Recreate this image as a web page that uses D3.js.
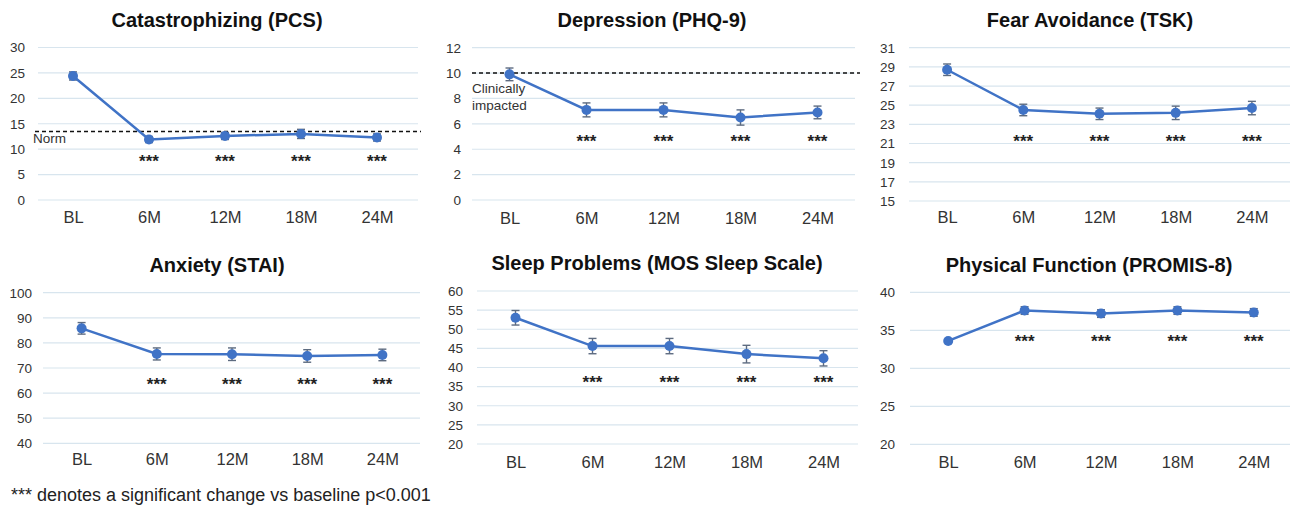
<!DOCTYPE html>
<html>
<head>
<meta charset="utf-8">
<script src="https://cdn.jsdelivr.net/npm/d3@7"></script>
<style>
  body { margin: 0; background: #fff; }
  svg { display: block; font-family: "Liberation Sans", Arial, sans-serif; }
</style>
</head>
<body>
<div id="chart"></div>
<script>
// time points shared by all six panels
const timepoints = ["BL", "6M", "12M", "18M", "24M"];

// means and error bar half widths
const pcsMean = [24.4, 11.9, 12.6, 13.0, 12.3];
const pcsErr = [0.8, 0.6, 0.7, 0.9, 0.7];
const phqMean = [9.9, 7.1, 7.1, 6.5, 6.9];
const phqErr = [0.5, 0.55, 0.55, 0.6, 0.5];
const tskMean = [28.7, 24.5, 24.1, 24.2, 24.7];
const tskErr = [0.6, 0.6, 0.6, 0.7, 0.7];
const staiMean = [85.8, 75.6, 75.5, 74.8, 75.2];
const staiErr = [2.3, 2.4, 2.5, 2.5, 2.3];
const mosMean = [53.0, 45.6, 45.6, 43.5, 42.4];
const mosErr = [1.9, 2.0, 2.0, 2.3, 2.0];
const promisMean = [33.6, 37.6, 37.2, 37.6, 37.35];
const promisErr = [0.2, 0.5, 0.5, 0.5, 0.5];

// value axis ticks
const pcsTicks = [0, 5, 10, 15, 20, 25, 30];
const phqTicks = [0, 2, 4, 6, 8, 10, 12];
const tskTicks = [15, 17, 19, 21, 23, 25, 27, 29, 31];
const staiTicks = [40, 50, 60, 70, 80, 90, 100];
const mosTicks = [20, 25, 30, 35, 40, 45, 50, 55, 60];
const promisTicks = [20, 25, 30, 35, 40];

// titles
const titles = ["Catastrophizing (PCS)", "Depression (PHQ-9)", "Fear Avoidance (TSK)",
  "Anxiety (STAI)", "Sleep Problems (MOS Sleep Scale)", "Physical Function (PROMIS-8)"];

// reference lines
const pcsNorm = 13.5;
const phqCutoff = 10;

// where the *** sit on each value axis
const starLevels = [8.5, 5, 21.7, 65.2, 37.3, 34.1];

const footnote = "*** denotes a significant change vs baseline p<0.001";

const W = 1293, H = 511;
const blue = "#4073c6";
const errCol = "#5d6b80";
const gridCol = "#d8e5ee";
const textCol = "#333";

const svg = d3.select("#chart").append("svg")
  .attr("width", W)
  .attr("height", H);

// panel frames
const panels = [
  { mean: pcsMean, err: pcsErr, ticks: pcsTicks, x0: 35, x1: 415, yTop: 47.5, yBot: 200, labelX: 25, titleX: 217, titleY: 27, catY: 223, grid: [38, 418] },
  { mean: phqMean, err: phqErr, ticks: phqTicks, x0: 471, x1: 856, yTop: 47.7, yBot: 200, labelX: 461, titleX: 652, titleY: 27, catY: 224, grid: [472, 855] },
  { mean: tskMean, err: tskErr, ticks: tskTicks, x0: 909, x1: 1290, yTop: 47.7, yBot: 201, labelX: 895, titleX: 1090, titleY: 27, catY: 223, grid: [909, 1290] },
  { mean: staiMean, err: staiErr, ticks: staiTicks, x0: 44, x1: 420, yTop: 292.7, yBot: 443.3, labelX: 32, titleX: 217, titleY: 272, catY: 465, grid: [43, 420] },
  { mean: mosMean, err: mosErr, ticks: mosTicks, x0: 477, x1: 862, yTop: 291, yBot: 444, labelX: 463, titleX: 657, titleY: 270, catY: 468, grid: [477, 858] },
  { mean: promisMean, err: promisErr, ticks: promisTicks, x0: 910, x1: 1292, yTop: 292.3, yBot: 444.3, labelX: 895, titleX: 1089, titleY: 272, catY: 468, grid: [910, 1290] }
];

panels.forEach((p, i) => {
  const g = svg.append("g");
  const x = d3.scalePoint().domain(timepoints).range([p.x0, p.x1]).padding(0.5);
  const y = d3.scaleLinear().domain(d3.extent(p.ticks)).range([p.yBot, p.yTop]);

  // gridlines
  g.selectAll(".grid").data(p.ticks).enter().append("line")
    .attr("x1", p.grid[0]).attr("x2", p.grid[1])
    .attr("y1", d => y(d)).attr("y2", d => y(d))
    .attr("stroke", gridCol).attr("stroke-width", 1.2);

  // value axis labels
  const yAxis = g.append("g")
    .attr("transform", `translate(${p.labelX},0)`)
    .call(d3.axisLeft(y).tickValues(p.ticks).tickSize(0).tickPadding(0));
  yAxis.select(".domain").remove();
  yAxis.selectAll("text").attr("font-size", 13.5).attr("fill", textCol)
    .attr("font-family", "Liberation Sans, Arial, sans-serif");

  // category labels
  const xAxis = g.append("g")
    .attr("transform", `translate(0,${p.catY - 12})`)
    .call(d3.axisBottom(x).tickSize(0).tickPadding(0));
  xAxis.select(".domain").remove();
  xAxis.selectAll("text").attr("font-size", 16.5).attr("fill", textCol)
    .attr("font-family", "Liberation Sans, Arial, sans-serif");

  // title
  g.append("text")
    .attr("x", p.titleX).attr("y", p.titleY)
    .attr("text-anchor", "middle")
    .attr("font-size", 20).attr("font-weight", "bold").attr("fill", "#111")
    .text(titles[i]);

  // reference lines
  if (i === 0) {
    g.append("line")
      .attr("x1", 35).attr("x2", 421)
      .attr("y1", y(pcsNorm)).attr("y2", y(pcsNorm))
      .attr("stroke", "#111").attr("stroke-width", 1.5).attr("stroke-dasharray", "4,3");
    g.append("text").attr("x", 33).attr("y", y(pcsNorm) + 12)
      .attr("font-size", 13.5).attr("fill", textCol).text("Norm");
  }
  if (i === 1) {
    g.append("line")
      .attr("x1", 472).attr("x2", 860)
      .attr("y1", y(phqCutoff)).attr("y2", y(phqCutoff))
      .attr("stroke", "#111").attr("stroke-width", 1.5).attr("stroke-dasharray", "4,3");
    g.append("text").attr("x", 472).attr("y", y(phqCutoff) + 20)
      .attr("font-size", 13.5).attr("fill", textCol).text("Clinically");
    g.append("text").attr("x", 472).attr("y", y(phqCutoff) + 37)
      .attr("font-size", 13.5).attr("fill", textCol).text("impacted");
  }

  const pts = timepoints.map((t, k) => ({ t: t, m: p.mean[k], e: p.err[k] }));

  // error bars
  const eb = g.selectAll(".eb").data(pts).enter().append("g")
    .attr("stroke", errCol).attr("stroke-width", 1.4);
  eb.append("line")
    .attr("x1", d => x(d.t)).attr("x2", d => x(d.t))
    .attr("y1", d => y(d.m - d.e)).attr("y2", d => y(d.m + d.e));
  eb.append("line")
    .attr("x1", d => x(d.t) - 4).attr("x2", d => x(d.t) + 4)
    .attr("y1", d => y(d.m - d.e)).attr("y2", d => y(d.m - d.e));
  eb.append("line")
    .attr("x1", d => x(d.t) - 4).attr("x2", d => x(d.t) + 4)
    .attr("y1", d => y(d.m + d.e)).attr("y2", d => y(d.m + d.e));

  // series line
  g.append("path")
    .datum(pts)
    .attr("fill", "none")
    .attr("stroke", blue)
    .attr("stroke-width", 2.5)
    .attr("d", d3.line().x(d => x(d.t)).y(d => y(d.m)));

  g.selectAll(".pt").data(pts).enter().append("circle")
    .attr("cx", d => x(d.t)).attr("cy", d => y(d.m))
    .attr("r", 5).attr("fill", blue);

  // significance stars
  g.selectAll(".star").data(timepoints.slice(1)).enter().append("text")
    .attr("x", d => x(d)).attr("y", y(starLevels[i]) + 10)
    .attr("text-anchor", "middle")
    .attr("font-size", 17).attr("font-weight", "bold").attr("fill", "#222")
    .text("***");
});

svg.append("text")
  .attr("x", 11).attr("y", 501)
  .attr("font-size", 18).attr("fill", "#222")
  .text(footnote);
</script>
</body>
</html>
